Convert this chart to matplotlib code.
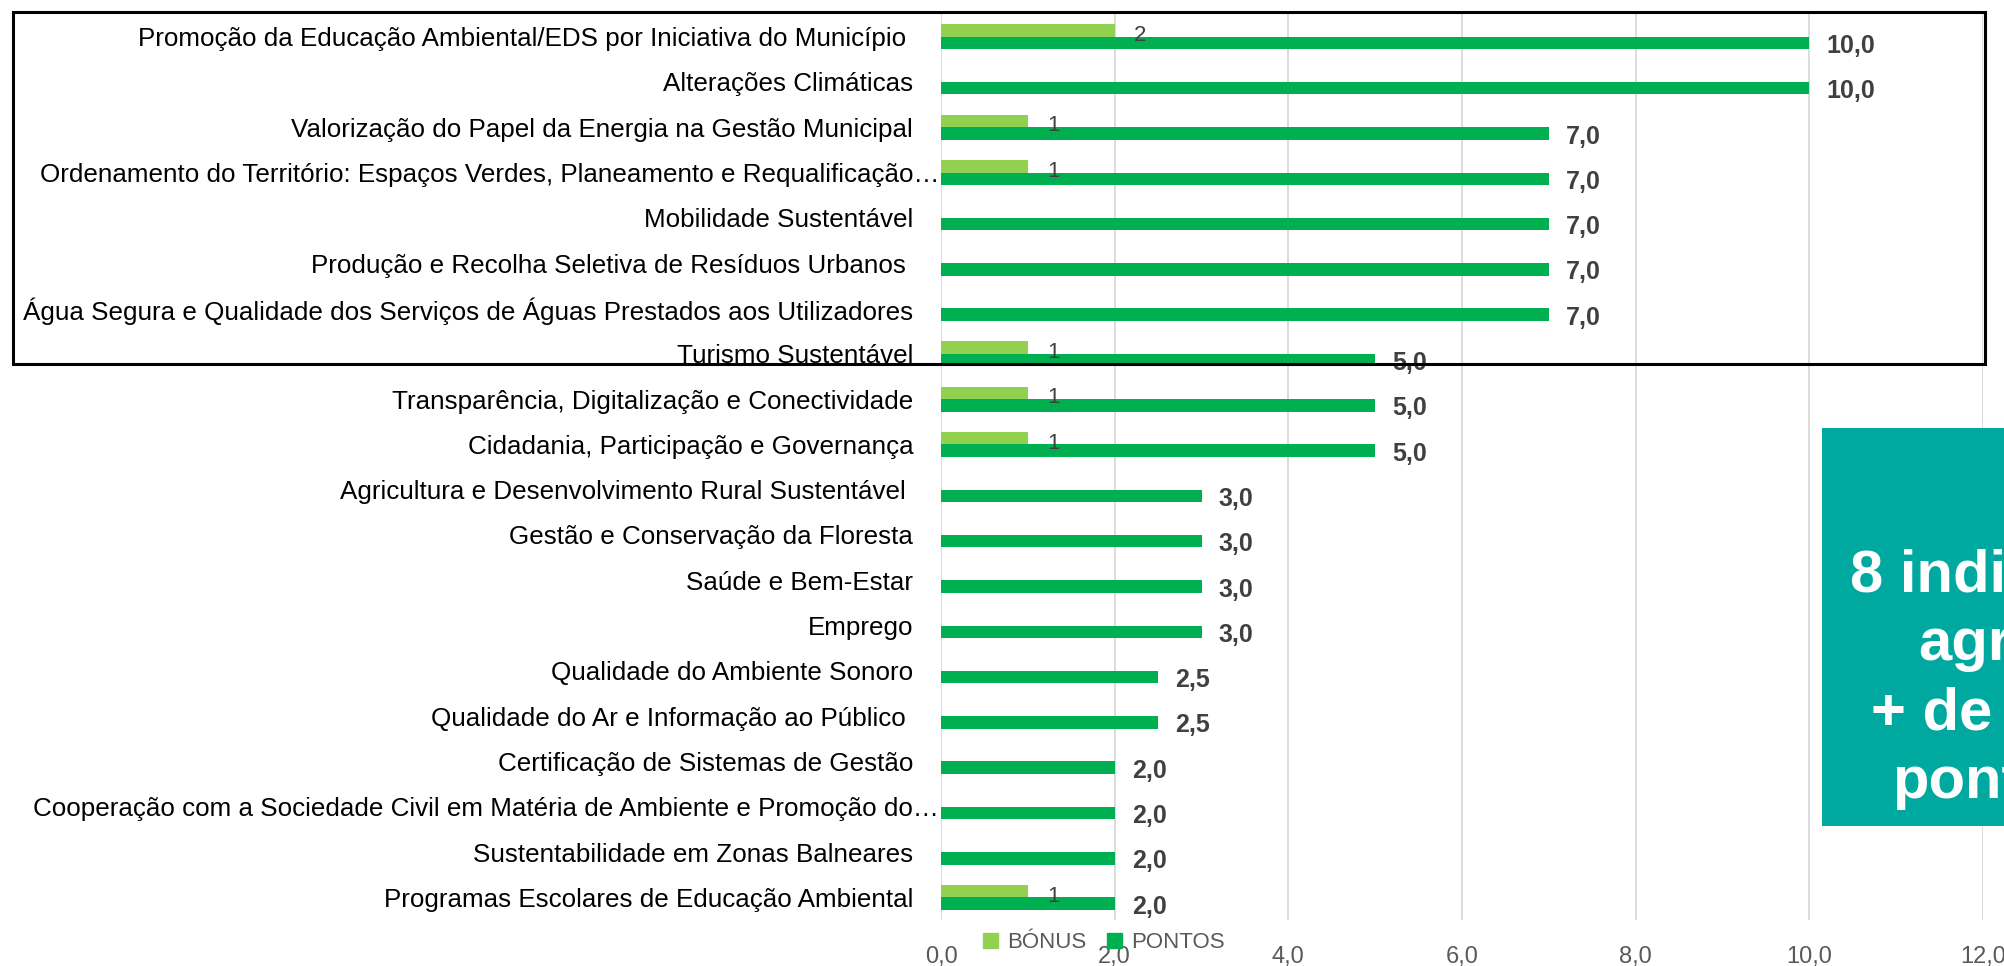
import matplotlib
matplotlib.use('Agg')
import matplotlib.pyplot as plt
from matplotlib.patches import Rectangle, Patch
from matplotlib.ticker import FuncFormatter
import numpy as np

plt.rcParams['font.family'] = ['Liberation Sans', 'DejaVu Sans']

# dados (de cima para baixo, como no grafico)
categorias = [
    'Promoção da Educação Ambiental/EDS por Iniciativa do Município ',
    'Alterações Climáticas',
    'Valorização do Papel da Energia na Gestão Municipal',
    'Ordenamento do Território: Espaços Verdes, Planeamento e Requalificação…',
    'Mobilidade Sustentável',
    'Produção e Recolha Seletiva de Resíduos Urbanos ',
    'Água Segura e Qualidade dos Serviços de Águas Prestados aos Utilizadores',
    'Turismo Sustentável',
    'Transparência, Digitalização e Conectividade',
    'Cidadania, Participação e Governança',
    'Agricultura e Desenvolvimento Rural Sustentável ',
    'Gestão e Conservação da Floresta',
    'Saúde e Bem-Estar',
    'Emprego',
    'Qualidade do Ambiente Sonoro',
    'Qualidade do Ar e Informação ao Público ',
    'Certificação de Sistemas de Gestão',
    'Cooperação com a Sociedade Civil em Matéria de Ambiente e Promoção do…',
    'Sustentabilidade em Zonas Balneares',
    'Programas Escolares de Educação Ambiental',
]
pontos = [10.0, 10.0, 7.0, 7.0, 7.0, 7.0, 7.0, 5.0, 5.0, 5.0,
          3.0, 3.0, 3.0, 3.0, 2.5, 2.5, 2.0, 2.0, 2.0, 2.0]
bonus = [2, 0, 1, 1, 0, 0, 0, 1, 1, 1,
         0, 0, 0, 0, 0, 0, 0, 0, 0, 1]
x_ticks = [0, 2, 4, 6, 8, 10, 12]
texto_caixa = ['8 indicadores', 'agregam', '+ de 50% da', 'pontuação']

VERDE_CLARO = '#92D050'
VERDE = '#00B050'
TEAL = '#00A99F'

W, H = 2004, 966
fig = plt.figure(figsize=(W / 100, H / 100), dpi=100)
ax = fig.add_axes([941 / W, 1 - 920 / H, (1983 - 941) / W, (920 - 14) / H])

y = np.arange(len(categorias))
bh = 0.276
ax.barh(y - bh / 2, bonus, height=bh, color=VERDE_CLARO, zorder=3)
ax.barh(y + bh / 2, pontos, height=bh, color=VERDE, zorder=3)

ax.set_xlim(0, 12)
ax.set_ylim(len(categorias) - 0.5, -0.5)
ax.set_xticks(x_ticks)
ax.xaxis.set_major_formatter(FuncFormatter(lambda v, p: f'{v:.1f}'.replace('.', ',')))
ax.grid(axis='x', color='#D9D9D9', lw=1.3, zorder=0)
for s in ax.spines.values():
    s.set_visible(False)
ax.tick_params(axis='x', length=0, pad=19, labelsize=17, labelcolor='#595959')
ax.tick_params(axis='y', length=0, labelsize=18.7, labelcolor='black')
ax.set_yticks(y)
ax.set_yticklabels(categorias)
for t, lab in zip(ax.yaxis.get_major_ticks(), categorias):
    t.set_pad(1.5 if lab.endswith('…') else 20)

# rotulos de valores
px = 72 / 100
for i in range(len(categorias)):
    ax.annotate(f'{pontos[i]:.1f}'.replace('.', ','), (pontos[i], y[i] + bh / 2),
                xytext=(17 * px, -3 * px), textcoords='offset points',
                ha='left', va='center', fontsize=18, fontweight='bold', color='#404040')
    if bonus[i]:
        ax.annotate(str(bonus[i]), (bonus[i], y[i] - bh / 2),
                    xytext=(19 * px, -5 * px), textcoords='offset points',
                    ha='left', va='center', fontsize=16, color='#404040')

# legenda
handles = [Patch(color=VERDE_CLARO, label='BÓNUS'), Patch(color=VERDE, label='PONTOS')]
fig.legend(handles=handles, loc='center left', bbox_to_anchor=(983 / W, 1 - 943 / H),
           ncol=2, frameon=False, fontsize=16, labelcolor='#595959',
           handlelength=0.68, handleheight=0.64, handletextpad=0.4,
           columnspacing=0.95, borderpad=0, borderaxespad=0)

# retangulo em volta dos 8 primeiros
fig.add_artist(Rectangle((13 / W, 1 - 364 / H), (1985 - 13) / W, (364 - 12) / H,
                         transform=fig.transFigure, fill=False, ec='black', lw=2.2, zorder=5))

# caixa de destaque
fig.add_artist(Rectangle((1822 / W, 1 - 826 / H), 442 / W, 398 / H,
                         transform=fig.transFigure, color=TEAL, lw=0, zorder=6))
for linha, yb in zip(texto_caixa, [591, 660, 730, 798]):
    fig.text(2043 / W, 1 - yb / H, linha, ha='center', va='baseline',
             fontsize=43, fontweight='bold', color='white', zorder=7)

fig.savefig('out.png', dpi=100)
